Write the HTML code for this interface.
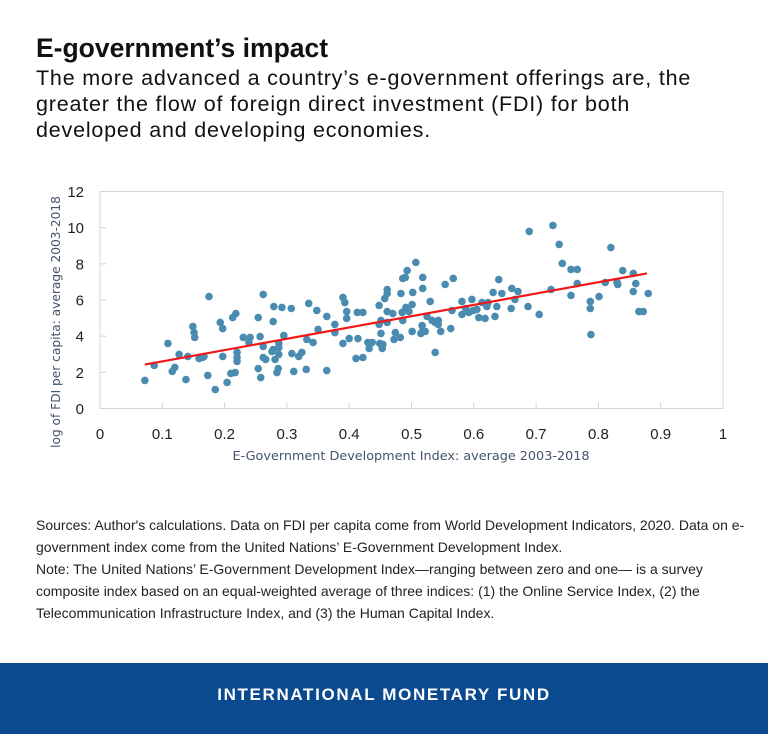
<!DOCTYPE html>
<html><head><meta charset="utf-8">
<style>
body{margin:0;width:768px;height:734px;background:#fff;position:relative;overflow:hidden;font-family:"Liberation Sans",sans-serif}
#title{position:absolute;left:36px;top:33px;font-size:26.5px;font-weight:bold;color:#111;margin:0}
#subtitle{position:absolute;left:36px;top:65px;font-size:21.5px;letter-spacing:0.8px;line-height:26px;color:#111;white-space:nowrap;margin:0}
#notes{position:absolute;left:36px;top:514px;width:730px;font-family:"Liberation Sans Narrow","Liberation Sans",sans-serif;font-stretch:condensed;font-size:14px;line-height:22px;color:#222}
#footer{position:absolute;left:0;top:663px;width:768px;height:71px;background:#0b4a8f;color:#fff;text-align:center;font-weight:bold;font-size:17px;letter-spacing:1.65px;line-height:64px}
svg{position:absolute;left:0;top:0}
</style></head><body>
<h1 id="title">E-government’s impact</h1>
<p id="subtitle">The more advanced a country’s e-government offerings are, the<br>greater the flow of foreign direct investment (FDI) for both<br>developed and developing economies.</p>
<svg id="chart" width="768" height="500"></svg>
<div id="notes">Sources: Author's calculations. Data on FDI per capita come from World Development Indicators, 2020. Data on e-government index come from the United Nations’ E-Government Development Index.<br>Note: The United Nations’ E-Government Development Index—ranging between zero and one— is a survey composite index based on an equal-weighted average of three indices: (1) the Online Service Index, (2) the Telecommunication Infrastructure Index, and (3) the Human Capital Index.</div>
<div id="footer">INTERNATIONAL MONETARY FUND</div>
<script>
const xTicks=[0,0.1,0.2,0.3,0.4,0.5,0.6,0.7,0.8,0.9,1];
const xTickLabels=["0","0.1","0.2","0.3","0.4","0.5","0.6","0.7","0.8","0.9","1"];
const yTicks=[0,2,4,6,8,10,12];
const yTickLabels=["0","2","4","6","8","10","12"];
const egdi=[.072,.087,.109,.116,.120,.127,.138,.141,.149,.151,.152,.159,.164,.167,.175,.173,.185,.193,.197,.197,.204,.210,.217,.213,.218,.220,.220,.220,.230,.241,.239,.254,.254,.258,.257,.262,.262,.262,.266,.276,.278,.278,.279,.292,.281,.286,.284,.287,.287,.287,.295,.307,.308,.311,.319,.324,.331,.332,.342,.335,.348,.350,.364,.364,.377,.377,.390,.393,.396,.396,.390,.400,.411,.422,.413,.422,.414,.430,.437,.432,.448,.448,.451,.461,.451,.449,.454,.453,.457,.461,.461,.461,.470,.474,.472,.482,.483,.486,.490,.493,.485,.491,.496,.501,.486,.501,.502,.507,.518,.518,.517,.518,.522,.515,.525,.530,.533,.538,.543,.543,.538,.547,.554,.563,.567,.565,.581,.581,.587,.592,.597,.599,.605,.608,.618,.613,.623,.621,.634,.631,.640,.637,.645,.660,.661,.671,.666,.687,.689,.705,.724,.727,.737,.742,.756,.766,.766,.756,.787,.787,.788,.801,.811,.820,.830,.831,.839,.856,.860,.856,.865,.872,.880];
const logFdi=[1.55,2.38,3.60,2.05,2.27,2.99,1.60,2.88,4.54,4.20,3.93,2.77,2.82,2.88,6.19,1.83,1.05,4.76,4.42,2.88,1.44,1.94,1.99,5.03,5.25,3.10,2.82,2.60,3.93,3.93,3.65,5.03,2.21,1.71,3.98,3.43,6.31,2.82,2.71,3.15,3.26,4.81,5.64,5.59,2.71,2.21,1.99,3.60,3.37,2.99,4.04,5.53,3.04,2.05,2.88,3.10,2.16,3.82,3.65,5.81,5.42,4.37,5.09,2.10,4.65,4.20,6.14,5.86,5.36,4.98,3.60,3.87,2.77,2.82,5.31,5.31,3.87,3.65,3.65,3.32,5.70,4.65,4.87,4.76,4.15,3.60,3.54,3.32,6.08,6.36,6.58,5.36,5.25,4.20,3.82,3.93,6.36,7.19,7.25,7.63,5.31,5.59,5.36,5.75,4.87,4.26,6.42,8.08,7.25,6.64,4.59,4.31,4.26,4.15,5.09,5.92,4.87,4.76,4.87,4.65,3.10,4.26,6.86,4.42,7.19,5.42,5.92,5.20,5.53,5.31,6.03,5.42,5.48,5.03,4.98,5.86,5.86,5.64,5.09,6.42,7.13,5.64,6.36,5.53,6.64,6.47,6.03,5.64,9.79,5.20,6.58,10.12,9.07,8.02,7.69,7.69,6.91,6.25,5.92,5.53,4.09,6.19,6.97,8.90,6.97,6.86,7.63,7.47,6.91,6.47,5.36,5.36,6.36];
const trendX=[0.072,0.878];
const trendY=[2.43,7.47];

const NS="http://www.w3.org/2000/svg";
const svg=document.getElementById('chart');
const X0=100,X1=723,Y0=408.5,Y1=191.5;
const sx=v=>X0+(X1-X0)*v;
const sy=v=>Y0-(Y0-Y1)*v/12;
function mk(tag,attrs,parent){const e=document.createElementNS(NS,tag);for(const k in attrs)e.setAttribute(k,attrs[k]);(parent||svg).appendChild(e);return e;}
const frame=mk('rect',{x:X0,y:Y1,width:X1-X0,height:Y0-Y1,fill:'none',stroke:'#d4d4d4','stroke-width':1});


const yAxisG=mk('g',{});


yTicks.forEach((t,i)=>{
  const tk=mk('line',{x1:X0,x2:X0+6,y1:sy(t),y2:sy(t),stroke:'#d4d4d4'},yAxisG);
  
  
  const lb=mk('text',{x:84,y:sy(t)+5.5,'text-anchor':'end','font-size':15,fill:'#222','font-family':'Liberation Sans, sans-serif'},yAxisG);
  lb.textContent=yTickLabels[i];
  
  
});
const xAxisG=mk('g',{});


xTicks.forEach((t,i)=>{
  const tk=mk('line',{x1:sx(t),x2:sx(t),y1:Y0,y2:Y0-6,stroke:'#d4d4d4'},xAxisG);
  
  
  const lb=mk('text',{x:sx(t),y:439,'text-anchor':'middle','font-size':15,fill:'#222','font-family':'Liberation Sans, sans-serif'},xAxisG);
  lb.textContent=xTickLabels[i];
  
  
});
const xt=mk('text',{x:411,y:460,'text-anchor':'middle','font-size':12.8,fill:'#44546a','font-family':'DejaVu Sans, sans-serif'});
xt.textContent='E-Government Development Index: average 2003-2018';


const yt=mk('text',{x:0,y:0,'text-anchor':'middle','font-size':12.2,fill:'#44546a','font-family':'DejaVu Sans, sans-serif',transform:'translate(60,322) rotate(-90)'});
yt.textContent='log of FDI per capita: average 2003-2018';


const ptsG=mk('g',{});


egdi.forEach((x,i)=>{
  const c=mk('circle',{cx:sx(x),cy:sy(logFdi[i]),r:3.8,fill:'#4a8bb0'},ptsG);
  
  
});
const tl=mk('line',{x1:sx(trendX[0]),y1:sy(trendY[0]),x2:sx(trendX[1]),y2:sy(trendY[1]),stroke:'#f01818','stroke-width':2.2});


</script>
</body></html>
